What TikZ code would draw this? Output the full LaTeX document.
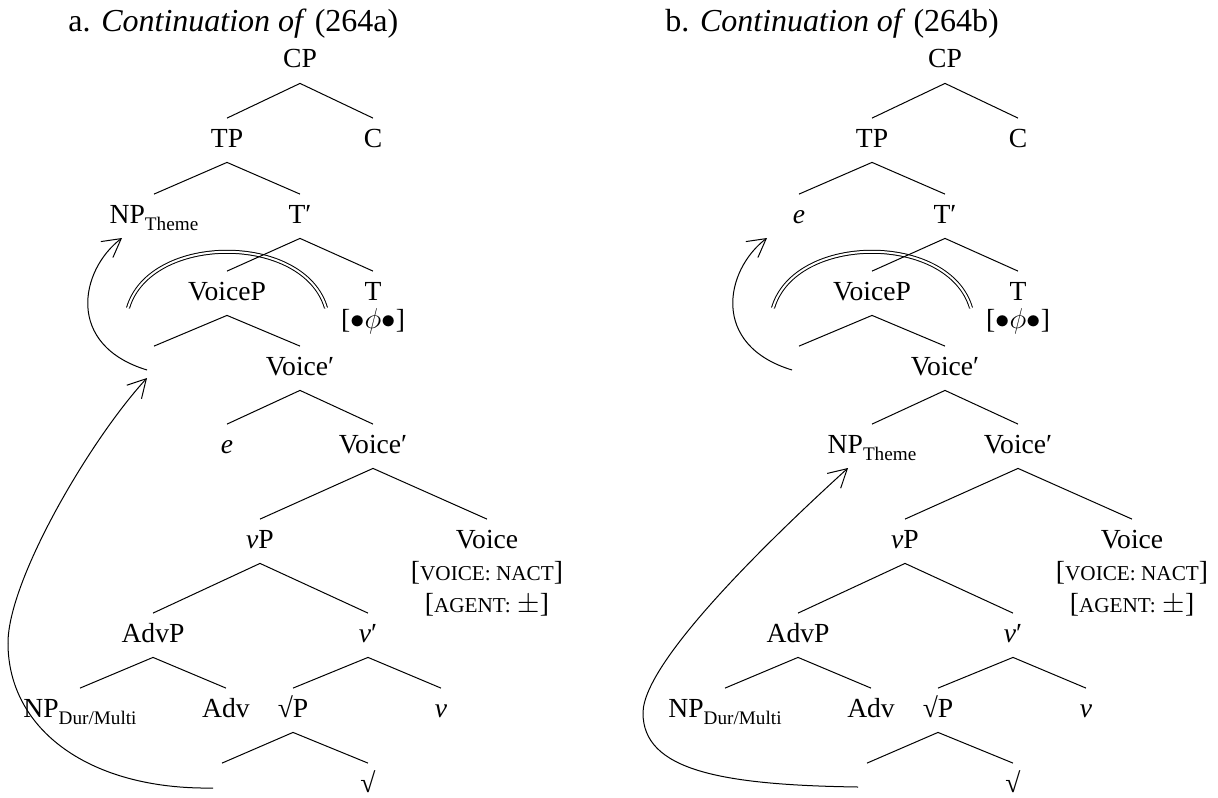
\documentclass[tikz,border=0pt]{standalone}
\usepackage{fontspec}
\setmainfont{Liberation Serif}
\usetikzlibrary{arrows.meta}
\newcommand\mysub[1]{\raisebox{-3.5pt}{\fontsize{9.6}{10}\selectfont #1}}
\newcommand\fsc[1]{{\fontsize{10.6}{12}\selectfont #1}}
\newcommand\mytree[3]{%
  \node[lab] (#1CP) at (300,68) {CP};
  \node[lab] (#1TP) at (227,147) {TP};
  \node[lab] (#1C) at (373,147) {C};
  \node[lab] (#1NP) at (154,223) {#2};
  \node[lab] (#1Tb) at (300,223) {T′};
  \node[lab] (#1VP) at (227,300) {VoiceP};
  \node[lab] (#1T) at (373,300) {T};
  \node[feat] (#1Tf) at (373,328) {[$\bullet\phi\bullet$]};
  \node[lab] (#1Ea) at (154,375) {};
  \node[lab] (#1Vba) at (300,375) {Voice′};
  \node[lab] (#1E) at (227,453) {#3};
  \node[lab] (#1Vbb) at (373,453) {Voice′};
  \node[lab] (#1vP) at (260,548) {\textit{v}P};
  \node[lab] (#1V) at (487,548) {Voice};
  \node[feat] (#1Vfa) at (487,580) {[\fsc{VOICE: NACT}]};
  \node[feat] (#1Vfb) at (487,612) {[\fsc{AGENT:} $\pm$]};
  \node[lab] (#1AdvP) at (153,642) {AdvP};
  \node[lab] (#1vb) at (368,642) {\textit{v}′};
  \node[lab] (#1NPd) at (80,717) {NP\mysub{Dur/Multi}};
  \node[lab] (#1Adv) at (226,717) {Adv};
  \node[lab] (#1rP) at (293,717) {√P};
  \node[lab] (#1v) at (441,717) {\textit{v}};
  \node[lab] (#1Eb) at (222,792) {};
  \node[lab] (#1r) at (368,792) {√};
  \draw[dbl] (128,308) .. controls (150,233) and (304,233) .. (326,308);
  \draw[branch] (#1TP.north) -- (#1CP.south) -- (#1C.north);
  \draw[branch] (#1NP.north) -- (#1TP.south) -- (#1Tb.north);
  \draw[branch] (#1VP.north) -- (#1Tb.south) -- (#1T.north);
  \draw[branch] (#1Ea.north) -- (#1VP.south) -- (#1Vba.north);
  \draw[branch] (#1E.north) -- (#1Vba.south) -- (#1Vbb.north);
  \draw[branch] (#1vP.north) -- (#1Vbb.south) -- (#1V.north);
  \draw[branch] (#1AdvP.north) -- (#1vP.south) -- (#1vb.north);
  \draw[branch] (#1NPd.north) -- (#1AdvP.south) -- (#1Adv.north);
  \draw[branch] (#1rP.north) -- (#1vb.south) -- (#1v.north);
  \draw[branch] (#1Eb.north) -- (#1rP.south) -- (#1r.north);
  \coordinate (#1s1) at (147,370);
  \coordinate (#1t1) at (122,238);
  \draw[mv] (#1s1) .. controls (65,345) and (80,270) .. (#1t1);
}
\begin{document}
\begin{tikzpicture}[x=0.5pt,y=-0.5pt,
  lab/.style={inner sep=0pt, anchor=base, text height=14.25pt, text depth=7.5pt, font=\fontsize{13.8}{16}\selectfont},
  feat/.style={inner sep=0pt, anchor=base, font=\fontsize{13.8}{16}\selectfont},
  ttl/.style={inner sep=0pt, anchor=base west, font=\fontsize{16}{19}\selectfont},
  branch/.style={line width=0.5pt},
  mv/.style={line width=0.5pt, -{Straight Barb[length=9pt,width=10pt]}},
  dbl/.style={double, line width=0.5pt, double distance=1pt}]
\useasboundingbox (0,0) rectangle (1218,797);
\node[ttl] (ta) at (68,32) {a. \textit{Continuation of} (264a)};
\node[ttl] (tb) at (665,32) {b. \textit{Continuation of} (264b)};
\mytree{a}{NP\mysub{Theme}}{\textit{e}}
\coordinate (as2) at (213,788);
\coordinate (am2) at (8,643);
\coordinate (at2) at (147,378);
\draw[line width=0.5pt] (as2) .. controls (90,790) and (8,730) .. (am2);
\draw[mv] (am2) .. controls (8,580) and (90,440) .. (at2);
\begin{scope}[shift={(645,0)}]
\mytree{b}{\textit{e}}{NP\mysub{Theme}}
\coordinate (bs2) at (213,787);
\coordinate (bm2) at (-2,713);
\coordinate (bt2) at (203,468);
\draw[line width=0.5pt] (bs2) .. controls (75,785) and (-2,770) .. (bm2);
\draw[mv] (bm2) .. controls (-2,660) and (135,530) .. (bt2);
\end{scope}
\end{tikzpicture}
\end{document}
